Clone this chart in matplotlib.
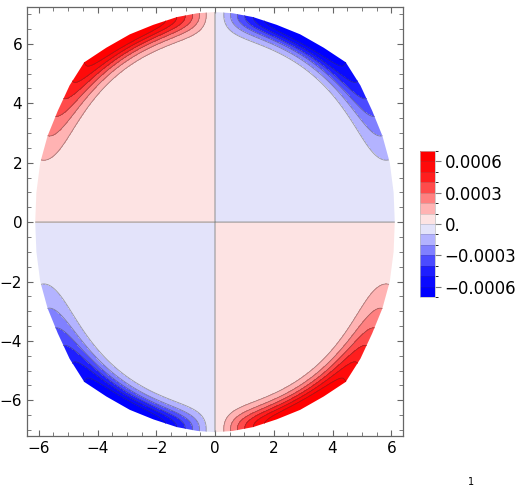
import numpy as np
import matplotlib
matplotlib.use("Agg")
import matplotlib.pyplot as plt
from matplotlib.colors import ListedColormap, BoundaryNorm
from matplotlib.cm import ScalarMappable
from matplotlib.patches import Polygon
from matplotlib.ticker import MultipleLocator

# contour levels and band colours (bottom to top)
levels = [-0.0007, -0.0006, -0.0005, -0.0004, -0.0003, -0.0002, -0.0001, 0.0,
          0.0001, 0.0002, 0.0003, 0.0004, 0.0005, 0.0006, 0.0007]
band_colors = ["#0000ff", "#0a0aff", "#1e1eff", "#4b4bff", "#8080ff", "#b3b3ff", "#e3e3fa",
               "#fde3e3", "#ffb3b3", "#ff8080", "#ff4b4b", "#ff1e1e", "#ff0a0a", "#ff0000"]
cbar_ticks = [0.0006, 0.0003, 0.0, -0.0003, -0.0006]
cbar_labels = ["0.0006", "0.0003", "0.", "\u22120.0003", "\u22120.0006"]
x_ticks = [-6, -4, -2, 0, 2, 4, 6]
y_ticks = [-6, -4, -2, 0, 2, 4, 6]

# outline of the region in the first quadrant (mirrored to the others)
edge_x = [6.12, 6.08, 5.95, 5.7, 5.35, 4.95, 4.45, 3.7, 2.9, 2.1, 1.3, 0.6, 0.0]
edge_y = [0.0, 1.0, 2.0, 2.9, 3.75, 4.6, 5.38, 5.87, 6.32, 6.64, 6.9, 7.03, 7.07]

# field: edge profile along the rim, decaying inwards
half_w = 6.12
half_h = 7.0
shape_p = 2.25
rise = 2.67
fall = 1.39
bend = -1.55
u_ref = 0.191
layer0 = 45.0
layer1 = 90.0

x = np.linspace(-6.4, 6.4, 801)
y = np.linspace(-7.25, 7.25, 901)
xx, yy = np.meshgrid(x, y)
X = np.abs(xx) / half_w
Y = np.abs(yy) / half_h

s = np.minimum((X ** shape_p + Y ** shape_p) ** (1 / shape_p), 1.0)
u = np.arctan2(Y, X) / (np.pi / 2)


def edge_profile(t):
    return t ** rise * (1 - t) ** fall * np.exp(bend * t * (1 - t))


f = -np.sign(xx * yy) * 1e-4 * edge_profile(u) / edge_profile(u_ref) \
    * np.exp(-(layer0 + layer1 * u) * (1 - s) ** 2)

# full outline for clipping
ex = np.array(edge_x)
ey = np.array(edge_y)
qx = ex.tolist() + (-ex[::-1]).tolist()[1:] + (-ex).tolist()[1:] + ex[::-1].tolist()[1:-1]
qy = ey.tolist() + ey[::-1].tolist()[1:] + (-ey).tolist()[1:] + (-ey[::-1]).tolist()[1:-1]

fig = plt.figure(figsize=(5.17, 4.9), dpi=100)
ax = fig.add_axes([27 / 517, 54 / 490, 376 / 517, 429 / 490])

region = Polygon(np.column_stack([qx, qy]), closed=True, facecolor="none", edgecolor="none")
ax.add_patch(region)

cf = ax.contourf(xx, yy, np.clip(f, -0.000699, 0.000699), levels=levels, colors=band_colors)
cf.set_clip_path(region)
line_levels = [l for l in levels if 0 < abs(l) < 0.00065]
cl = ax.contour(xx, yy, f, levels=line_levels, colors="#333333", linewidths=0.6,
                alpha=0.45, negative_linestyles="solid")
cl.set_clip_path(region)
cz = ax.contour(xx, yy, f, levels=[0.0], colors="#999999", linewidths=0.8)
cz.set_clip_path(region)

ax.set_xlim(-6.4, 6.4)
ax.set_ylim(-7.2, 7.24)
ax.set_xticks(x_ticks)
ax.set_yticks(y_ticks)
ax.set_xticklabels([str(v).replace("-", "\u2212") for v in x_ticks])
ax.set_yticklabels([str(v).replace("-", "\u2212") for v in y_ticks])
ax.xaxis.set_minor_locator(MultipleLocator(0.5))
ax.yaxis.set_minor_locator(MultipleLocator(0.5))
ax.tick_params(which="both", direction="in", top=True, right=True, color="#666666")
ax.tick_params(which="major", length=4.5, width=0.8, labelsize=11, pad=3.5)
ax.tick_params(which="minor", length=2.7, width=0.6)
for sp in ax.spines.values():
    sp.set_color("#666666")
    sp.set_linewidth(0.9)

cax = fig.add_axes([420 / 517, (490 - 297) / 490, 15 / 517, 146 / 490])
cmap = ListedColormap(band_colors)
norm = BoundaryNorm(levels, cmap.N)
cb = fig.colorbar(ScalarMappable(norm=norm, cmap=cmap), cax=cax, ticks=cbar_ticks, drawedges=True)
cb.set_ticklabels(cbar_labels)
cb.outline.set_edgecolor("#bbbbbb")
cb.outline.set_linewidth(0.5)
cb.dividers.set_color("#444444")
cb.dividers.set_alpha(0.25)
cb.dividers.set_linewidth(0.5)
cax.tick_params(length=4, width=0.8, color="#777777", labelsize=12, pad=3)

fig.text(468 / 517, 1 - 477 / 490, "1", fontsize=7, va="top", ha="left")

fig.savefig("out.png", dpi=100)
